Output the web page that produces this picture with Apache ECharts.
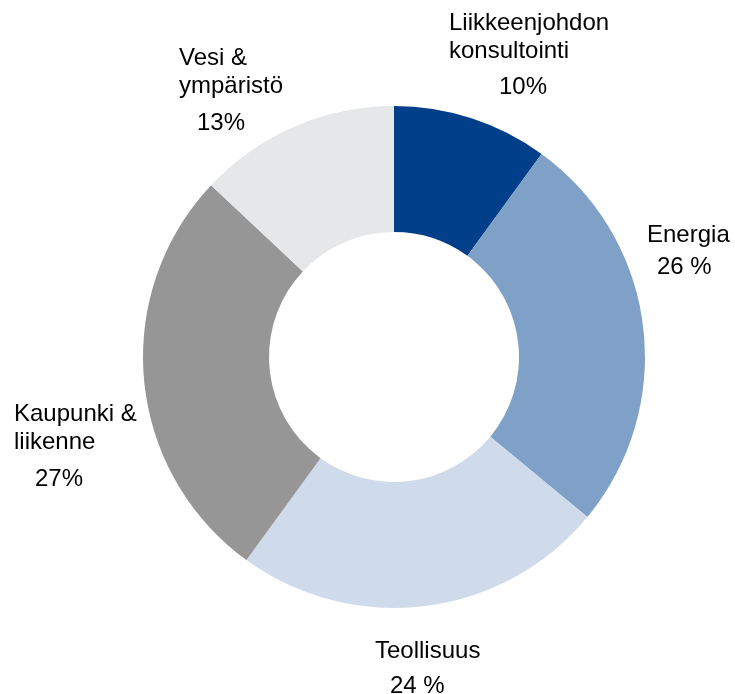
<!DOCTYPE html>
<html>
<head>
<meta charset="utf-8">
<script src="https://cdn.jsdelivr.net/npm/echarts@6/dist/echarts.min.js"></script>
<style>
  html, body { margin: 0; padding: 0; background: #fff; }
  #chart { width: 735px; height: 694px; }
</style>
</head>
<body>
<div id="chart"></div>
<script>
// data
var names = ['Liikkeenjohdon\nkonsultointi', 'Energia', 'Teollisuus', 'Kaupunki &\nliikenne', 'Vesi &\nympäristö'];
var values = [10, 26, 24, 27, 13];
var pctLabels = ['10%', '26 %', '24 %', '27%', '13%'];
var colors = ['#023f8b', '#7fa1c7', '#cfdaea', '#969696', '#e6e7e8'];

// label placement (top-left of each text block)
var labelPos = [[449, 9], [647, 221], [375, 637], [14, 400], [179, 44]];
var pctIndent = [50, 10, 15, 21, 18];
var pctLineH = [44, 36, 42, 46, 46];

var rich = {
  n: { fontSize: 24, lineHeight: 28, color: '#000', fontFamily: 'Liberation Sans, Arial, sans-serif' }
};
pctLabels.forEach(function (p, i) {
  rich['p' + i] = {
    fontSize: 24, lineHeight: pctLineH[i], color: '#000',
    fontFamily: 'Liberation Sans, Arial, sans-serif',
    padding: [0, 0, 0, pctIndent[i]]
  };
});

var chart = echarts.init(document.getElementById('chart'));
var option = {
  animation: false,
  color: colors,
  series: [
    {
      type: 'pie',
      center: [394, 357],
      radius: [125, 251],
      startAngle: 90,
      clockwise: true,
      avoidLabelOverlap: false,
      data: names.map(function (n, i) {
        return { name: n, value: values[i] };
      }),
      itemStyle: { borderWidth: 0 },
      emphasis: { disabled: true },
      label: {
        show: true,
        position: 'outside',
        align: 'left',
        formatter: function (p) {
          var lines = p.name.split('\n').map(function (l) { return '{n|' + l + '}'; });
          return lines.join('\n') + '\n{p' + p.dataIndex + '|' + pctLabels[p.dataIndex] + '}';
        },
        rich: rich
      },
      labelLine: { show: false },
      labelLayout: function (params) {
        var pos = labelPos[params.dataIndex];
        return { x: pos[0], y: pos[1], align: 'left', verticalAlign: 'top' };
      }
    }
  ]
};
chart.setOption(option);
</script>
</body>
</html>
